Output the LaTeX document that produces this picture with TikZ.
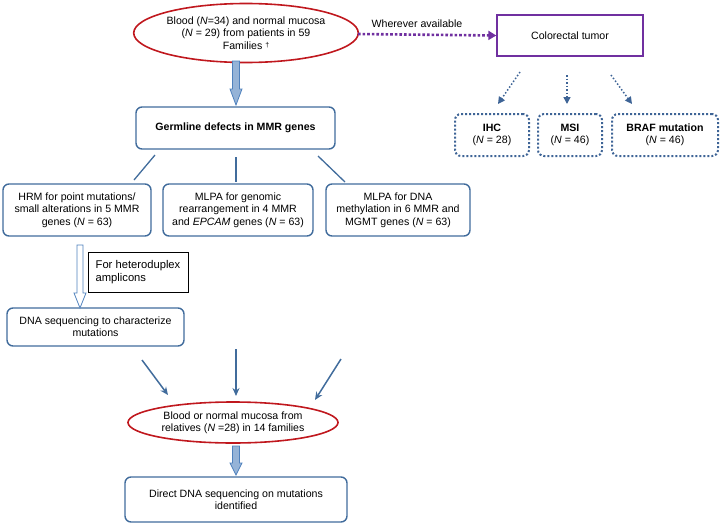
\documentclass[tikz,border=0pt]{standalone}
\usepackage{fontspec}
\setmainfont{Liberation Sans}
\usetikzlibrary{shapes.geometric,arrows.meta}
\definecolor{ellred}{RGB}{192,24,30}
\definecolor{boxblue}{RGB}{65,108,156}
\definecolor{dotblue}{RGB}{62,100,150}
\definecolor{purp}{RGB}{112,48,160}
\definecolor{arrfill}{RGB}{149,179,215}
\definecolor{arrdraw}{RGB}{79,129,189}
\tikzset{
  txt/.style={font=\fontsize{10.6}{12.4}\selectfont, align=center, inner sep=0pt},
  ell/.style={txt, ellipse, draw=ellred, line width=1.6pt},
  rbox/.style={txt, draw=boxblue, line width=1.4pt, rounded corners=6pt},
  dbox/.style={txt, draw=dotblue, line width=2pt, dotted, rounded corners=6pt},
  link/.style={draw=boxblue, line width=1.3pt},
  convarrow/.style={draw=boxblue, line width=1.5pt, -{Stealth[length=8pt,width=7pt]}},
  dotarrow/.style={draw=dotblue, line width=1.5pt, dotted, -{Triangle[length=7pt,width=7pt]}},
  blockarrow/.style={fill=arrfill, draw=arrdraw, line width=0.8pt},
  hollowarrow/.style={fill=white, draw=arrdraw, line width=0.8pt},
}
\begin{document}
\begin{tikzpicture}[x=1pt,y=-1pt]
\useasboundingbox (0,0) rectangle (721,525);

% top ellipse
\node[ell, minimum width=192pt, minimum height=59pt] (blood) at (246,33)
  {Blood (\emph{N}=34) and normal mucosa\\(\emph{N} = 29) from patients in 59\\Families {\fontsize{7}{8}\selectfont\raisebox{2pt}{\textdagger}}};

% germline box
\node[rbox, minimum width=199pt, minimum height=42pt] (germ) at (235.5,128)
  {\textbf{Germline defects in MMR genes}};

% three method boxes
\node[rbox, minimum width=148pt, minimum height=52pt] (hrm) at (77,210)
  {HRM for point mutations/\\small alterations in 5 MMR\\genes (\emph{N} = 63)};
\node[rbox, minimum width=150pt, minimum height=52pt] (mlpa1) at (238,210)
  {MLPA for genomic\\rearrangement in 4 MMR\\and \emph{EPCAM} genes (\emph{N} = 63)};
\node[rbox, minimum width=144pt, minimum height=52pt] (mlpa2) at (398,210)
  {MLPA for DNA\\methylation in 6 MMR and\\MGMT genes (\emph{N} = 63)};

% heteroduplex note
\node[draw=black, line width=0.6pt, minimum width=100pt, minimum height=40pt,
      font=\fontsize{11.2}{13}\selectfont, align=left, inner sep=0pt] (hetero) at (138,272)
  {For heteroduplex\\amplicons};

% DNA sequencing box
\node[rbox, minimum width=177pt, minimum height=38pt] (dnaseq) at (95.5,327)
  {DNA sequencing to characterize\\mutations};

% bottom ellipse
\node[ell, minimum width=210pt, minimum height=41pt] (relatives) at (233,422.5)
  {Blood or normal mucosa from\\relatives (\emph{N} =28) in 14 families};

% bottom box
\node[rbox, minimum width=222pt, minimum height=45pt] (direct) at (236,499.5)
  {Direct DNA sequencing on mutations\\identified};

% right side
\node[txt, draw=purp, line width=1.4pt, minimum width=146pt, minimum height=41pt] (tumor) at (570,35.5)
  {Colorectal tumor};
\node[txt] (wherever) at (417,24) {Wherever available};

\node[dbox, minimum width=74pt, minimum height=42pt] (ihc) at (492,135)
  {\textbf{IHC}\\(\emph{N} = 28)};
\node[dbox, minimum width=64pt, minimum height=42pt] (msi) at (570,135)
  {\textbf{MSI}\\(\emph{N} = 46)};
\node[dbox, minimum width=106pt, minimum height=42pt] (braf) at (665,135)
  {\textbf{BRAF mutation}\\(\emph{N} = 46)};

% purple dotted arrow
\coordinate (pstart) at (358,34);
\draw[draw=purp, line width=2.6pt, dotted, -{Triangle[length=8pt,width=9pt]}] (pstart) -- (tumor.west);

% dotted arrows from tumor
\coordinate (t1) at (520,72); \coordinate (t1e) at (498,104);
\coordinate (t2) at (567,75); \coordinate (t2e) at (567,104);
\coordinate (t3) at (611,75); \coordinate (t3e) at (632,104);
\draw[dotarrow] (t1) -- (t1e);
\draw[dotarrow] (t2) -- (t2e);
\draw[dotarrow] (t3) -- (t3e);

% lines from germline box
\coordinate (g1) at (155,155); \coordinate (g1e) at (134,180);
\coordinate (g2) at (236,157); \coordinate (g2e) at (236,182);
\coordinate (g3) at (318,156); \coordinate (g3e) at (345,182);
\draw[link] (g1) -- (g1e);
\draw[link] (g2) -- (g2e);
\draw[link] (g3) -- (g3e);

% converging arrows
\coordinate (c1) at (142,360); \coordinate (c1e) at (168,395);
\coordinate (c2) at (236,349); \coordinate (c2e) at (236,396);
\coordinate (c3) at (341,359); \coordinate (c3e) at (315,400);
\draw[convarrow] (c1) -- (c1e);
\draw[convarrow] (c2) -- (c2e);
\draw[convarrow] (c3) -- (c3e);

% block arrow top
\draw[blockarrow] (232.5,61) -- (239.5,61) -- (239.5,89) -- (242,89) -- (236,105) -- (230,89) -- (232.5,89) -- cycle;
% hollow arrow
\draw[hollowarrow] (77,245) -- (83,245) -- (83,293) -- (86,293) -- (80,308) -- (74,293) -- (77,293) -- cycle;
% block arrow bottom
\draw[blockarrow] (232.5,446) -- (239.5,446) -- (239.5,463) -- (242,463) -- (236,475) -- (230,463) -- (232.5,463) -- cycle;
\end{tikzpicture}
\end{document}
